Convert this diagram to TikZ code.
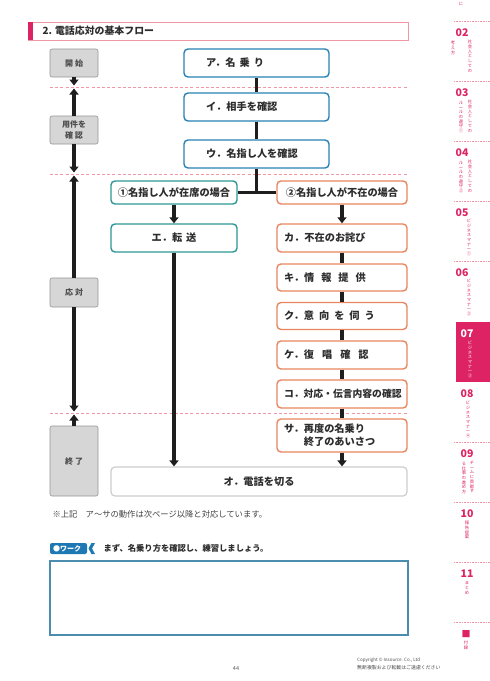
\documentclass[tikz,border=0pt]{standalone}
\usepackage{fontspec}
\setmainfont{Noto Sans CJK JP}
\usetikzlibrary{arrows.meta}
\definecolor{bflow}{RGB}{40,130,180}
\definecolor{tflow}{RGB}{45,150,150}
\definecolor{oflow}{RGB}{232,135,95}
\definecolor{gbox}{RGB}{214,214,214}
\definecolor{gline}{RGB}{150,150,150}
\definecolor{obox}{RGB}{205,205,205}
\definecolor{pinkd}{RGB}{240,150,165}
\definecolor{pinkm}{RGB}{222,35,100}
\definecolor{txt}{RGB}{45,45,45}
\definecolor{connc}{RGB}{30,30,30}
\definecolor{wblue}{RGB}{30,120,180}
\definecolor{wbox}{RGB}{75,140,175}
\newcommand{\jg}[1][4pt]{\hspace{#1}}
\newcommand{\vstk}[1]{\vstkaux#1\relax}
\def\vstkaux#1{\ifx\relax#1\else#1\\\expandafter\vstkaux\fi}
\begin{document}
\begin{tikzpicture}[x=1pt,y=-1pt,
  every node/.style={font=\fontsize{10.2}{12}\selectfont\bfseries, text=txt},
  flowbox/.style={draw, line width=1.4pt, rounded corners=4pt, fill=white, minimum height=28pt, inner ysep=0pt},
  bluebox/.style={flowbox, draw=bflow, minimum width=145pt, text width=101pt, inner xsep=22pt, align=left},
  tealbox/.style={flowbox, draw=tflow, minimum width=126pt, align=center},
  orbox/.style={flowbox, draw=oflow, text width=116pt, inner xsep=7pt, align=left},
  endbox/.style={flowbox, draw=obox, line width=1.2pt, minimum width=296pt, align=center},
  phasebox/.style={draw=gline, line width=0.6pt, fill=gbox, rounded corners=2pt, minimum width=48pt, inner sep=0pt, font=\fontsize{8}{10.5}\selectfont\bfseries, text=txt!85, align=center},
  conn/.style={draw=connc, line width=3.3pt},
  arr/.style={conn, -{Triangle[width=9pt,length=6pt]}},
  phasedash/.style={draw=pinkd, line width=0.8pt, dash pattern=on 3pt off 2.2pt},
  sbnum/.style={font=\fontsize{10.5}{12}\selectfont\bfseries, text=pinkm, inner sep=0pt},
  sbsub/.style={font=\fontsize{4.3}{4.7}\selectfont, text=pinkm, inner sep=0pt, align=center, anchor=north},
  sbsep/.style={draw=pinkd, line width=0.6pt, dash pattern=on 0.8pt off 0.8pt},
]
\useasboundingbox (0,0) rectangle (490,681);
\fill[white] (0,0) rectangle (490,681);

% title bar
\draw[pinkd, line width=0.8pt] (28,22) rectangle (408,40);
\fill[pinkm] (28,22) rectangle (33,40);
\node[anchor=west, font=\fontsize{9.9}{12}\selectfont\bfseries] (title) at (39,31) {2. 電話応対の基本フロー};

% phase separator lines
\coordinate (L1a) at (50,87);  \coordinate (L1b) at (408,87);
\coordinate (L2a) at (50,174); \coordinate (L2b) at (408,174);
\coordinate (L3a) at (50,413); \coordinate (L3b) at (408,413);
\draw[phasedash] (L1a) -- (L1b);
\draw[phasedash] (L2a) -- (L2b);
\draw[phasedash] (L3a) -- (L3b);

% phase boxes
\node[phasebox, minimum height=28pt] (start) at (74,63) {開\jg[2pt]始};
\node[phasebox, minimum height=28pt] (check) at (74,130) {用件を\\確\jg[2pt]認};
\node[phasebox, minimum height=29pt] (resp) at (74,292.5) {応\jg[2pt]対};
\node[phasebox, minimum height=70pt] (fin) at (74,461) {終\jg[2pt]了};

\coordinate (p1d) at (74,85.5);  \coordinate (p1u) at (74,88.5);
\coordinate (p2d) at (74,172.5); \coordinate (p2u) at (74,175.5);
\coordinate (p3d) at (74,411.5); \coordinate (p3u) at (74,414.5);
\draw[arr] (start.south) -- (p1d);
\draw[arr] (check.north) -- (p1u);
\draw[arr] (check.south) -- (p2d);
\draw[arr] (resp.north) -- (p2u);
\draw[arr] (resp.south) -- (p3d);
\draw[arr] (fin.north) -- (p3u);

% main flow boxes
\node[bluebox] (a) at (256.5,63) {ア．名\jg{}乗\jg{}り};
\node[bluebox] (i) at (256.5,107) {イ．相手を確認};
\node[bluebox] (u) at (256.5,154) {ウ．名指し人を確認};

\node[tealbox, minimum height=23pt] (c1) at (174,192.5) {①名指し人が在席の場合};
\node[flowbox, draw=oflow, minimum width=130pt, minimum height=23pt, align=center] (c2) at (342,192.5) {②名指し人が不在の場合};

\node[tealbox] (e) at (174,238) {エ．転\jg{}送};
\node[orbox] (ka) at (342,238) {カ．不在のお詫び};
\node[orbox, minimum height=27pt] (ki) at (342,277.5) {キ．情\jg[7pt]報\jg[7pt]提\jg[7pt]供};
\node[orbox, minimum height=27pt] (ku) at (342,316) {ク．意\jg[5pt]向\jg[5pt]を\jg[5pt]伺\jg[5pt]う};
\node[orbox] (ke) at (342,355) {ケ．復\jg[8pt]唱\jg[8pt]確\jg[8pt]認};
\node[orbox, font=\fontsize{9.8}{12}\selectfont\bfseries] (ko) at (342,394) {コ．対応・伝言内容の確認};
\node[orbox, minimum height=33pt, font=\fontsize{10.2}{13}\selectfont\bfseries] (sa) at (342,435.5) {サ．再度の名乗り\\\hphantom{サ．}終了のあいさつ};
\node[endbox, minimum height=29pt] (o) at (259,481.5) {オ．電話を切る};

% connectors
\coordinate (j) at (u.south |- c1.east);
\draw[conn] (a.south) -- (i.north);
\draw[conn] (i.south) -- (u.north);
\draw[conn] (u.south) -- (j);
\draw[conn] (c1.east) -- (c2.west);
\draw[arr] (c1.south) -- (e.north);
\draw[arr] (e.south) -- (e.south |- o.north);
\draw[arr] (c2.south) -- (ka.north);
\draw[conn] (ka.south) -- (ki.north);
\draw[conn] (ki.south) -- (ku.north);
\draw[conn] (ku.south) -- (ke.north);
\draw[conn] (ke.south) -- (ko.north);
\draw[conn] (ko.south) -- (sa.north);
\draw[arr] (sa.south) -- (sa.south |- o.north);

% note
\node[anchor=west, font=\fontsize{8.3}{10}\selectfont, text=txt!90] (note) at (49,514) {※上記　ア～サの動作は次ページ以降と対応しています。};

% work tag
\fill[wblue, rounded corners=2pt] (50,543) -- (87,543) -- (87,554) -- (50,554) -- cycle;
\fill[wblue] (95,543) -- (91.5,543) -- (88.5,548.5) -- (91.5,554) -- (95,554) -- (92,548.5) -- cycle;
\node[anchor=west, font=\fontsize{7}{8}\selectfont\bfseries, text=white, inner sep=0pt] (worktag) at (53,548.5) {●ワーク};
\node[anchor=west, font=\fontsize{8.3}{10}\selectfont\bfseries] (workq) at (100,548.5) {まず、名乗り方を確認し、練習しましょう。};
\node[draw=wbox, line width=1.3pt, minimum width=358pt, minimum height=74pt, inner sep=0pt] (workbox) at (229,598) {};

% footer
\node[font=\fontsize{5.5}{6}\selectfont, text=txt!80] (pg) at (236,669) {44};
\node[anchor=west, font=\fontsize{4.5}{5}\selectfont, text=txt!85, inner sep=0pt] (cp1) at (357,660) {Copyright © Insource. Co., Ltd};
\node[anchor=west, font=\fontsize{4.9}{5}\selectfont, text=txt!85, inner sep=0pt] (cp2) at (357,668) {無断複製および転載はご遠慮ください};

% sidebar
\fill[pinkm] (456,322) rectangle (490,382);
\foreach \yy in {21,81,141,201,261,442,502,562,622} \draw[sbsep] (454,\yy) -- (490,\yy);
\node[sbsub] (s01) at (461,2) {に};
\foreach \nn/\yy in {02/33,03/93,04/153,05/213,06/273}
  \node[sbnum] (n\nn) at (462,\yy) {\nn};
\foreach \nn/\yy in {08/394,09/454,10/514,11/574}
  \node[sbnum] (n\nn) at (467,\yy) {\nn};
\node[sbnum, text=white] (n07) at (467,334) {07};
\node[sbnum, font=\fontsize{9}{10}\selectfont] (nfu) at (466,634) {■};

\node[sbsub] (s02a) at (470,40) {\vstk{社会人としての}};
\node[sbsub] (s02b) at (453,41) {\vstk{考え方}};
\node[sbsub] (s03a) at (470,100) {\vstk{社会人としての}};
\node[sbsub] (s03b) at (461,101) {\vstk{ルールの遵守①}};
\node[sbsub] (s04a) at (470,160) {\vstk{社会人としての}};
\node[sbsub] (s04b) at (461,161) {\vstk{ルールの遵守②}};
\node[sbsub] (s05) at (469,219) {\vstk{ビジネスマナー①}};
\node[sbsub] (s06) at (469,279) {\vstk{ビジネスマナー②}};
\node[sbsub, text=white] (s07) at (470,341) {\vstk{ビジネスマナー③}};
\node[sbsub] (s08) at (468,401) {\vstk{ビジネスマナー④}};
\node[sbsub] (s09a) at (472,461) {\vstk{チームに貢献す}};
\node[sbsub] (s09b) at (464,462) {\vstk{る仕事の進め方}};
\node[sbsub] (s10) at (467,521) {\vstk{報告提案}};
\node[sbsub] (s11) at (467,581) {\vstk{まとめ}};
\node[sbsub] (sfu) at (466,641) {\vstk{付録}};
\end{tikzpicture}
\end{document}
